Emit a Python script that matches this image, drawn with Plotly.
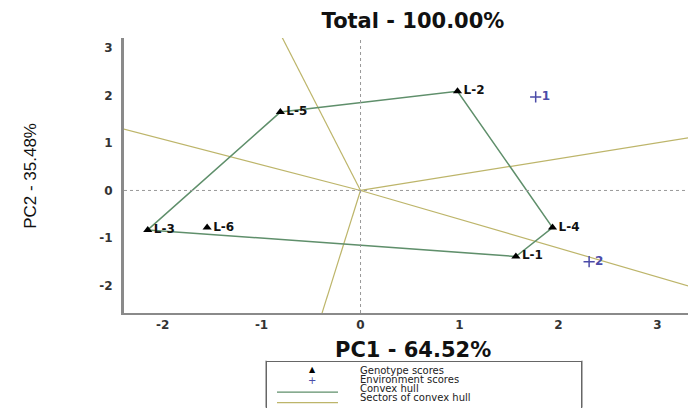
import numpy as np
import plotly.graph_objects as go

# ---------------- data ----------------
genotypes = ["L-1", "L-2", "L-3", "L-4", "L-5", "L-6"]
gen_pc1 = [1.57, 0.98, -2.15, 1.94, -0.81, -1.55]
gen_pc2 = [-1.39, 2.09, -0.83, -0.78, 1.65, -0.78]

environments = ["1", "2"]
env_pc1 = [1.77, 2.31]
env_pc2 = [1.97, -1.50]

x_ticks = [-2, -1, 0, 1, 2, 3]
x_tick_labels = ["-2", "-1", "0", "1", "2", "3"]
y_ticks = [-2, -1, 0, 1, 2, 3]
y_tick_labels = ["-2", "-1", "0", "1", "2", "3"]

title_text = "Total - 100.00%"
pc1_label = "PC1 - 64.52%"
pc2_label = "PC2 - 35.48%"
legend_labels = ["Genotype scores", "Environment scores", "Convex hull", "Sectors of convex hull"]

# ---------------- styles ----------------
HULL_COLOR = "#5f8f6b"
SECTOR_COLOR = "#bdb56a"
ENV_COLOR = "#4b4ba8"
AXIS_COLOR = "#8a8a8a"
BOLD_FONT = "DejaVu Sans"

# the page body adds an 8px offset; size the figure so it fills the window exactly
OFF = 8
W, H = 696 - OFF, 408 - OFF
ML, MR, MT = 124 - OFF, 0, 38 - OFF
PLOT_BOTTOM = 313.3 - OFF
MB = H - PLOT_BOTTOM
PW, PH = W - ML - MR, PLOT_BOTTOM - MT


def px(x):
    """window pixel x -> paper x"""
    return (x - OFF - ML) / PW


def py(y):
    """window pixel y -> paper y"""
    return (PLOT_BOTTOM - (y - OFF)) / PH


# ---------------- convex hull & sectors ----------------
def convex_hull(points):
    pts = sorted(set(points))

    def cross(o, a, b):
        return (a[0] - o[0]) * (b[1] - o[1]) - (a[1] - o[1]) * (b[0] - o[0])

    lower = []
    for p in pts:
        while len(lower) >= 2 and cross(lower[-2], lower[-1], p) <= 0:
            lower.pop()
        lower.append(p)
    upper = []
    for p in reversed(pts):
        while len(upper) >= 2 and cross(upper[-2], upper[-1], p) <= 0:
            upper.pop()
        upper.append(p)
    return lower[:-1] + upper[:-1]


hull = convex_hull(list(zip(gen_pc1, gen_pc2)))
hull_x = [p[0] for p in hull] + [hull[0][0]]
hull_y = [p[1] for p in hull] + [hull[0][1]]

sec_x, sec_y = [], []
for i in range(len(hull)):
    P = np.array(hull[i])
    Q = np.array(hull[(i + 1) % len(hull)])
    d = Q - P
    t = -P.dot(d) / d.dot(d)
    f = P + t * d
    end = f / np.linalg.norm(f) * 12
    sec_x += [0, end[0], None]
    sec_y += [0, end[1], None]

fig = go.Figure()

fig.add_trace(go.Scatter(x=sec_x, y=sec_y, mode="lines",
                         line=dict(color=SECTOR_COLOR, width=1.2),
                         showlegend=False, hoverinfo="skip"))
fig.add_trace(go.Scatter(x=hull_x, y=hull_y, mode="lines",
                         line=dict(color=HULL_COLOR, width=1.5),
                         showlegend=False, hoverinfo="skip"))
fig.add_trace(go.Scatter(x=gen_pc1, y=gen_pc2, mode="markers+text",
                         text=genotypes, textposition="middle right",
                         textfont=dict(family=BOLD_FONT, size=12, color="#111", weight="bold"),
                         marker=dict(symbol="triangle-up", size=8, color="black"),
                         showlegend=False))
fig.add_trace(go.Scatter(x=env_pc1, y=env_pc2, mode="markers+text",
                         text=environments, textposition="middle right",
                         textfont=dict(family=BOLD_FONT, size=12, color=ENV_COLOR, weight="bold"),
                         marker=dict(symbol="cross-thin", size=8,
                                     line=dict(color=ENV_COLOR, width=1.5)),
                         showlegend=False))

# zero reference lines
fig.add_vline(x=0, line=dict(color="#999999", width=1, dash="dot"))
fig.add_hline(y=0, line=dict(color="#999999", width=1, dash="dot"))


def pline(x0, y0, x1, y1, color, width):
    return dict(type="line", xref="paper", yref="paper",
                x0=px(x0), y0=py(y0), x1=px(x1), y1=py(y1),
                line=dict(color=color, width=width))


shapes = []
# top frame line
shapes.append(dict(type="line", xref="paper", yref="paper", x0=0, x1=1, y0=1, y1=1,
                   line=dict(color="#a0a0a0", width=1)))
# legend box edges (bottom lies below the window)
shapes.append(pline(266, 361, 582, 361, "#666666", 1))
shapes.append(pline(266, 361, 266, 408, "#666666", 1))
shapes.append(pline(582, 361, 582, 408, "#666666", 1))
# legend line samples
shapes.append(pline(277, 392.5, 338, 392.5, HULL_COLOR, 1.2))
shapes.append(pline(277, 403, 338, 403, SECTOR_COLOR, 1.2))

annotations = []
# legend frame drawn as a bordered annotation box as well
annotations.append(dict(text=" ", xref="paper", yref="paper", x=px(266), y=py(361),
                        xanchor="left", yanchor="top", showarrow=False,
                        width=314, height=70, borderpad=0,
                        bordercolor="#666666", borderwidth=1,
                        font=dict(size=10)))
row_y = [371, 380, 388.5, 397.5]
for lab, yy in zip(legend_labels, row_y):
    annotations.append(dict(text=lab, xref="paper", yref="paper", x=px(358), y=py(yy),
                            xanchor="left", yanchor="middle", showarrow=False,
                            font=dict(family="DejaVu Sans", size=10, color="#222")))
annotations.append(dict(text="▲", xref="paper", yref="paper", x=px(312), y=py(370),
                        xanchor="center", yanchor="middle", showarrow=False,
                        font=dict(family="DejaVu Sans", size=8, color="black")))
annotations.append(dict(text="+", xref="paper", yref="paper", x=px(312), y=py(380.5),
                        xanchor="center", yanchor="middle", showarrow=False,
                        font=dict(family="DejaVu Sans", size=10, color=ENV_COLOR)))
# axis titles
annotations.append(dict(text=pc1_label, xref="paper", yref="paper", x=px(413), y=py(350),
                        xanchor="center", yanchor="middle", showarrow=False,
                        font=dict(family=BOLD_FONT, size=21, color="#111", weight="bold")))
annotations.append(dict(text=pc2_label, xref="paper", yref="paper", x=px(31), y=py(176),
                        xanchor="center", yanchor="middle", showarrow=False, textangle=-90,
                        font=dict(family="Liberation Sans", size=17, color="#111")))

fig.update_layout(
    width=W, height=H,
    margin=dict(l=ML, r=MR, t=MT, b=MB, autoexpand=False),
    plot_bgcolor="white", paper_bgcolor="white",
    title=dict(text=title_text, x=px(413), xref="paper", xanchor="center",
               y=1 - (21 - OFF) / H, yref="container", yanchor="middle",
               font=dict(family=BOLD_FONT, size=21, color="#111", weight="bold")),
    shapes=shapes,
    annotations=annotations,
    showlegend=False,
)
fig.update_xaxes(range=[-2.39, 3.39], tickvals=x_ticks, ticktext=x_tick_labels,
                 showgrid=False, zeroline=False,
                 showline=True, linecolor=AXIS_COLOR, linewidth=2, ticks="",
                 tickfont=dict(family=BOLD_FONT, size=12, color="#333", weight="bold"))
fig.update_yaxes(range=[-2.58, 3.21], tickvals=y_ticks, ticktext=y_tick_labels,
                 showgrid=False, zeroline=False,
                 showline=True, linecolor=AXIS_COLOR, linewidth=3, ticks="",
                 ticklabelstandoff=6,
                 tickfont=dict(family=BOLD_FONT, size=12, color="#333", weight="bold"))

fig.write_html("out.html")
